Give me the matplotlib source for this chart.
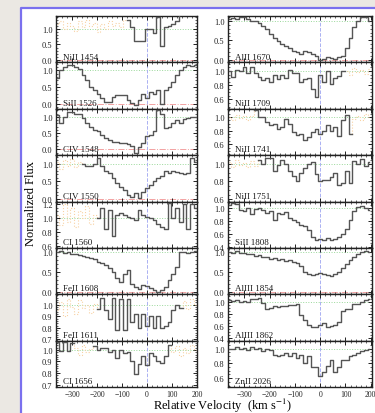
import numpy as np
import matplotlib.pyplot as plt
from matplotlib.lines import Line2D
from matplotlib.patches import Rectangle
from matplotlib.ticker import AutoMinorLocator, FormatStrFormatter, MultipleLocator

plt.rcParams.update({
    "font.family": ["Liberation Serif", "DejaVu Serif"],
    "mathtext.fontset": "stix",
    "axes.linewidth": 1.0,
})

NA = np.nan

# bin centres, km/s
velocity = np.arange(-360, 196, 15)

# ---- left column spectra (normalized flux per bin) ----
ni1454 = [NA] * 19 + [1.3, 1.05, 0.62, 0.62, 0.62, 1.0, 1.0, 0.88, 1.4, 0.45,
                      1.05, 1.1, 1.15, 1.25, 1.5, NA, NA, NA, NA]
sii1526 = [0.78, 1.0, 1.1, 1.15, 1.15, 1.1, 1.05, 0.85, 0.7, 0.5, 0.42, 0.3, 0.18,
           0.05, 0.05, 0.2, 0.27, 0.27, 0.25, 0.1, 0.02, -0.05, 0.12, 0.3, 0.18,
           0.35, 0.28, 0.4, 0.0, 0.42, 0.5, 0.65, 0.85, 1.0, 1.1, 1.15, 1.12, 1.15]
civ1548 = [1.05, 0.8, 1.0, 1.15, 1.15, 1.1, 1.1, 0.95, 0.8, 0.7, 0.6, 0.55, 0.45,
           0.35, 0.3, 0.22, 0.22, 0.2, 0.2, 0.15, 0.1, -0.12, 0.08, 0.2, 0.4, 0.45,
           0.55, 1.2, 1.1, 0.65, 0.7, 0.8, 0.9, 0.82, 0.92, 0.95, 1.0, 1.0]
civ1550 = [NA] * 7 + [1.0, 0.95, 0.95, 1.0, 1.18, 0.95, 0.8, 0.75, 0.6, 0.45, 0.35,
                      0.25, 0.12, 0.05, 0.15, 0.02, 0.2, 0.3, 0.38, 0.5, 0.58, 0.65,
                      0.8, 0.75, 0.8, 0.78, 0.75, 0.72, 0.75, 1.18, 1.05]
ci1560 = [NA] * 11 + [1.0, 1.15, 0.85, 1.12, 0.75, 1.05, 1.08, 1.05, 1.02, 1.0, 0.97,
                      1.12, 1.05, 1.02, 1.0, 0.97, 0.92, 0.88, 0.85, 1.22, 1.0, 1.15,
                      0.95, 1.2, 0.85, 1.2, 1.15]
feii1608 = [1.0, 1.02, 0.98, 1.0, 0.95, 0.95, 0.92, 0.9, 0.88, 0.85, 0.82, 0.75, 0.72,
            0.68, 0.6, 0.5, 0.35, 0.25, 0.45, 0.55, 0.2, 0.12, 0.08, 0.18, 0.15, 0.1,
            0.05, 0.0, 0.05, 0.12, 0.3, 0.45, 0.62, 1.0, 1.0, 0.98, 1.0, 1.02]
feii1611 = [NA] * 11 + [0.96, 1.06, 0.95, 0.88, 1.06, 0.78, 1.05, 0.78, 1.05, 0.85,
                        0.92, 0.8, 0.92, 0.82, 0.9, 0.8, 0.9, 0.8, 0.82, 0.85, 0.95,
                        1.0, 0.97] + [NA] * 4
ci1656 = [1.07, 0.99, 1.07, 0.99, 1.06] + [NA] * 5 + [
    1.03, 1.0, 1.02, 1.02, 0.98, 1.0, 0.93, 1.0, 0.97, 0.98, 0.9, 0.79, 0.88, 0.95,
    0.87, 0.97, 0.95, 0.9, 0.89, 0.95, 1.04] + [NA] * 7

# ---- right column spectra ----
alii1670 = [1.05, 1.08, 1.05, 1.1, 1.1, 1.05, 1.0, 1.0, 0.95, 0.87, 0.78, 0.65, 0.55,
            0.48, 0.4, 0.35, 0.3, 0.22, 0.2, 0.16, 0.22, 0.2, 0.15, 0.1, 0.0, 0.03,
            0.08, 0.06, 0.02, 0.08, 0.1, 0.3, 0.55, 0.85, 1.0, 1.1, 1.1, 1.0]
nii1709 = [1.0, 0.92, 1.02, 1.0, 1.06, 0.97, 1.05, 0.97, 0.92, 0.87, 0.9, 0.85, 0.95,
           0.88, 0.95, 0.9, 1.02, 0.97, 0.97, 0.85, 0.88, 0.9, 0.75, 0.63, 0.95, 0.85,
           1.0, 0.82, 0.9, 0.93, 1.0] + [NA] * 7
nii1741 = [NA] * 7 + [1.1, 1.0, 1.0, 0.93, 0.88, 0.9, 0.83, 0.85, 0.97, 0.9, 0.78,
                      0.73, 0.75, 0.66, 0.7, 0.78, 0.82, 0.75, 0.8, 0.88, 0.8, 0.85,
                      0.72, 0.95, 1.03, 0.75] + [NA] * 5
nii1751 = [NA] * 8 + [1.05, 1.0, 1.07, 1.07, 0.92, 0.99, 1.05, 1.0, 0.92, 0.86, 0.8,
                      0.9, 0.95, 1.0, 1.02, 0.88, 0.8, 0.82, 0.82, 0.85, 0.9, 0.76,
                      0.78, 0.92, 0.78, 1.03, 1.0, 1.06, 0.98, 1.02]
sii1808 = [1.05, 1.08, 1.06, 0.97, 0.95, 1.0, 0.9, 0.98, 1.0, 0.97, 0.92, 0.95, 0.82,
           0.92, 0.9, 0.93, 0.85, 0.82, 0.78, 0.74, 0.72, 0.65, 0.55, 0.5, 0.52, 0.5,
           0.53, 0.5, 0.52, 0.55, 0.6, 0.68, 0.82, 0.95, 1.02, 1.03, 1.0, 0.97]
aliii1854 = [1.0, 0.97, 1.01, 0.96, 0.97, 0.93, 0.95, 0.9, 0.91, 0.86, 0.87, 0.82,
             0.84, 0.79, 0.81, 0.77, 0.79, 0.74, 0.72, 0.63, 0.5, 0.45, 0.41, 0.43,
             0.46, 0.44, 0.42, 0.39, 0.43, 0.5, 0.6, 0.69, 0.8, 0.87, 0.95, 1.0, 1.02,
             0.99]
aliii1862 = [1.03, 1.02, 1.03, 1.0, 1.02, 1.0, 1.05, 1.05, 1.07, 0.98, 0.88, 0.9,
             0.93, 0.92, 0.93, 0.93, 0.95, 0.95, 0.97, 0.78, 0.7, 0.62, 0.58, 0.58,
             0.62, 0.65, 0.58, 0.6, 0.62, 0.67, 0.85, 0.88, 0.88, 0.97, 0.97, 1.0,
             1.03, 1.05]
znii2026 = [0.99, 1.0, 1.02, 1.0, 1.01, 0.98, 1.02, 1.0, 1.01, 0.97, 0.99, 0.98, 0.92,
            0.9, 0.92, 0.94, 0.9, 0.94, 0.87, 0.92, 0.8, 0.9, 0.75, 0.75, 0.63, 0.68,
            0.76, 0.85, 0.68, 0.75, 0.85, 0.85, 0.9, 0.92, 0.94, 0.97, 0.98, 1.0]

# ---- blended / masked stretches, shown faint ----
ni1454_blend = [1.15, 1.25, 1.0, 1.2, 1.1, 0.95, 1.25, 1.05, 1.3, 1.1, 1.2, 0.9,
                1.15, 1.0, 1.25, 1.1, 1.2, 1.05, 1.3] + [NA] * 19
civ1550_blend = [1.05, 0.85, 1.1, 0.95, 1.15, 0.9, 1.05, 1.0] + [NA] * 30
ci1560_blend = [1.05, 0.9, 1.2, 0.95, 1.15, 0.88, 1.1, 1.0, 1.18, 0.92, 1.05,
                1.0] + [NA] * 26
feii1611_blend = [0.95, 1.02, 0.9, 1.05, 0.98, 0.92, 1.04, 0.97, 1.0, 0.93, 1.01,
                  0.96] + [NA] * 21 + [0.97, 1.03, 0.96, 1.05, 1.0]
ci1656_blend = [NA] * 4 + [1.06, 1.02, 0.96, 1.04, 0.98, 1.01, 1.03] + [NA] * 19 + [
    1.04, 0.98, 1.03, 0.95, 1.02, 0.97, 1.04, 1.0]
nii1709_blend = [NA] * 30 + [1.0, 1.0, 0.95, 1.04, 0.98, 1.02, 0.96, 1.03]
nii1741_blend = [1.0, 0.96, 1.03, 0.98, 1.02, 0.95, 1.01, 1.1] + [NA] * 24 + [
    0.75, 0.97, 1.02, 0.95, 1.04, 1.0]
nii1751_blend = [1.02, 0.97, 1.04, 0.99, 1.01, 0.96, 1.03, 0.98, 1.05] + [NA] * 29

left_labels = ["NiII 1454", "SiII 1526", "CIV 1548", "CIV 1550",
               "CI 1560", "FeII 1608", "FeII 1611", "CI 1656"]
right_labels = ["AlII 1670", "NiII 1709", "NiII 1741", "NiII 1751",
                "SiII 1808", "AlIII 1854", "AlIII 1862", "ZnII 2026"]

left_flux = [ni1454, sii1526, civ1548, civ1550, ci1560, feii1608, feii1611, ci1656]
right_flux = [alii1670, nii1709, nii1741, nii1751, sii1808, aliii1854, aliii1862, znii2026]
left_blend = [ni1454_blend, None, None, civ1550_blend, ci1560_blend, None,
              feii1611_blend, ci1656_blend]
right_blend = [None, nii1709_blend, nii1741_blend, nii1751_blend, None, None, None, None]

left_ylim = [(-0.08, 1.42), (-0.15, 1.24), (-0.18, 1.25), (-0.08, 1.25),
             (0.58, 1.24), (-0.06, 1.10), (0.69, 1.09), (0.68, 1.08)]
right_ylim = [(-0.06, 1.12), (0.47, 1.12), (0.44, 1.12), (0.57, 1.10),
              (0.38, 1.10), (-0.06, 1.09), (0.35, 1.13), (0.48, 1.11)]
left_ystep = [0.5, 0.5, 0.5, 0.5, 0.2, 0.5, 0.1, 0.1]
right_ystep = [0.5, 0.2, 0.2, 0.2, 0.2, 0.5, 0.2, 0.2]

W, H = 375, 414
fig = plt.figure(figsize=(W / 100, H / 100), dpi=100)
fig.patch.set_facecolor("#ebe8e3")

# white card with a blue edge on the left and top
card_x, card_y = 21 / W, 1 - 9 / H
fig.add_artist(Rectangle((card_x, 0), 1 - card_x, card_y, transform=fig.transFigure,
                         facecolor="white", edgecolor="none", zorder=-10))
fig.add_artist(Line2D([card_x, card_x, 1], [0, card_y, card_y], transform=fig.transFigure,
                      color="#7a70ee", lw=1.6, zorder=-5))

panel_top = 17
panel_h = 371 / 8
columns = [
    (56, 141, (-365, 200), left_labels, left_flux, left_blend, left_ylim, left_ystep),
    (228, 144, (-365, 205), right_labels, right_flux, right_blend, right_ylim, right_ystep),
]

for x0, width, xlim, labels, fluxes, blends, ylims, ysteps in columns:
    for i in range(8):
        top = panel_top + i * panel_h
        ax = fig.add_axes([x0 / W, 1 - (top + panel_h) / H, width / W, panel_h / H])
        ax.axhline(1.0, color="#9ad89a", ls=":", lw=0.7, zorder=1)
        ax.axhline(0.0, color="#f3a3a3", ls="-.", lw=0.7, zorder=1)
        ax.axvline(0.0, color="#aab0f2", ls="--", lw=0.7, zorder=1)
        if blends[i] is not None:
            ax.plot(velocity, np.array(blends[i], dtype=float), drawstyle="steps-mid",
                    color="#f8d2a4", ls=":", lw=0.8, zorder=2)
        ax.plot(velocity, np.array(fluxes[i], dtype=float), drawstyle="steps-mid",
                color="#555555", lw=1.0, zorder=3)
        ax.set_xlim(xlim)
        ax.set_ylim(ylims[i])
        ax.xaxis.set_major_locator(MultipleLocator(100))
        ax.xaxis.set_minor_locator(MultipleLocator(20))
        ax.yaxis.set_major_locator(MultipleLocator(ysteps[i]))
        ax.yaxis.set_minor_locator(AutoMinorLocator())
        ax.yaxis.set_major_formatter(FormatStrFormatter("%.1f"))
        ax.tick_params(which="both", direction="in", top=True, right=True,
                       labelsize=6, pad=2.5, colors="#222222")
        ax.tick_params(axis="x", labelsize=5.5, pad=2)
        ax.tick_params(which="major", length=3, width=0.7)
        ax.tick_params(which="minor", length=1.5, width=0.5)
        ax.tick_params(axis="x", labelbottom=(i == 7))
        for spine in ax.spines.values():
            spine.set_color("#222222")
        ax.text(0.05, 0.04, labels[i], transform=ax.transAxes, fontsize=6.5,
                ha="left", va="bottom", color="#1a1a1a", zorder=4)

fig.text(31 / W, 1 - 204 / H, "Normalized Flux", rotation=90, ha="center",
         va="center", fontsize=9)
fig.text(222 / W, 1 - 410 / H, r"Relative Velocity  (km s$^{-1}$)", ha="center",
         va="baseline", fontsize=9)

fig.savefig("out.png", dpi=100)
